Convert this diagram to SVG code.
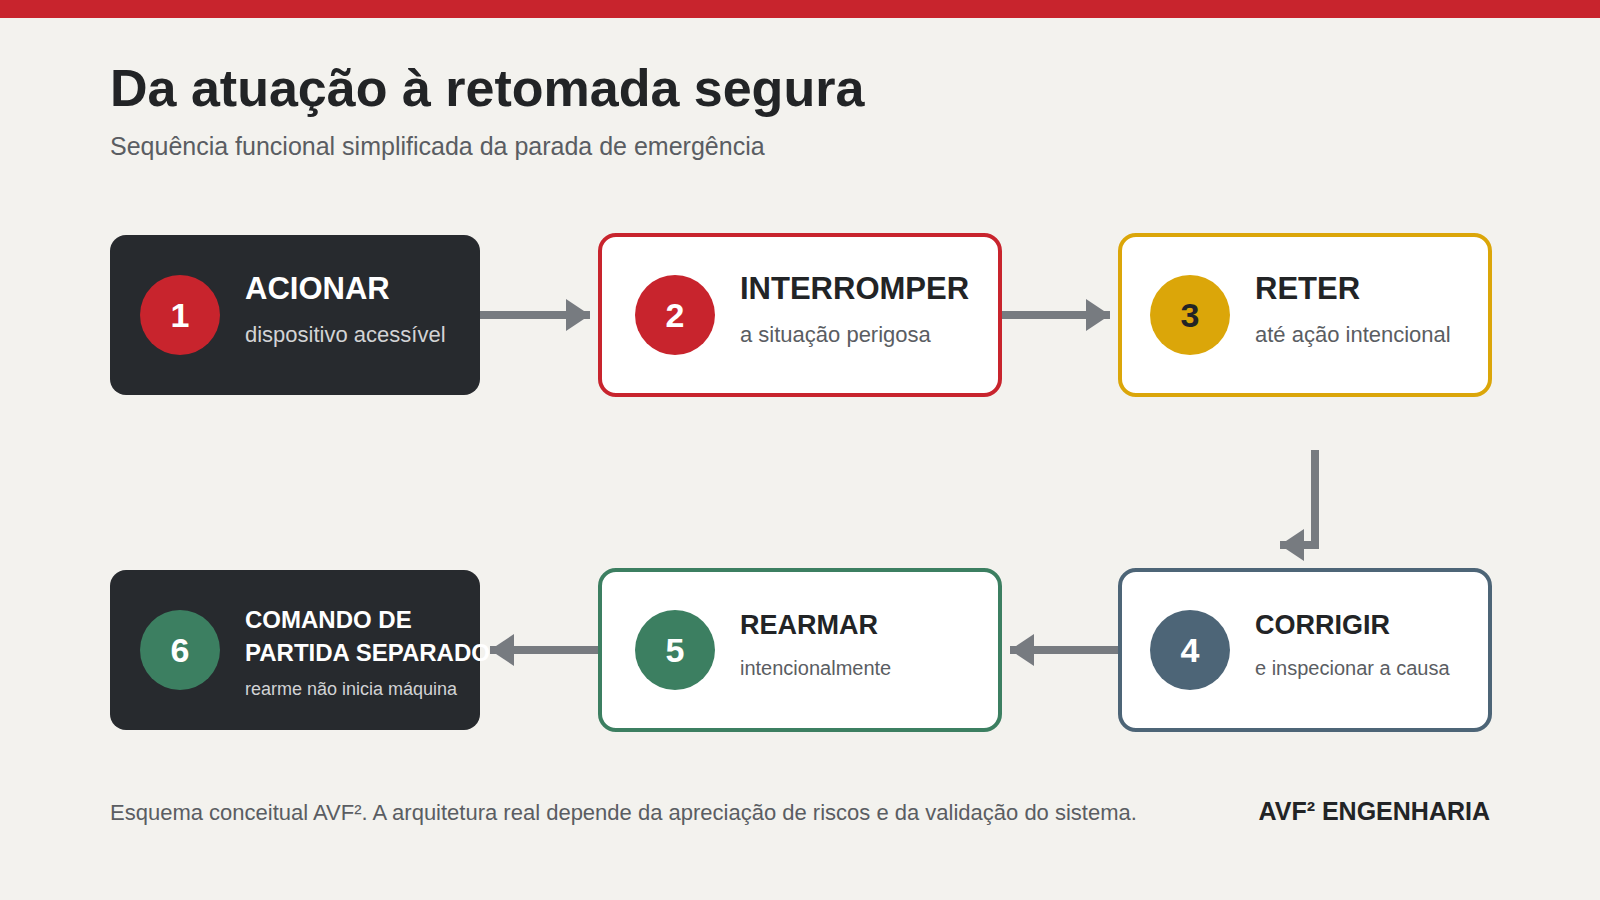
<svg xmlns="http://www.w3.org/2000/svg" width="1600" height="900" viewBox="0 0 1600 900">
<defs>
<style>
.bg{fill:#f3f2ee}
.dark{fill:#272a2e}
.card{fill:#ffffff;stroke-width:4}
.h1{font-family:"Liberation Sans",Arial,sans-serif;font-weight:bold;font-size:52px;fill:#222426}
.sub{font-family:"Liberation Sans",Arial,sans-serif;font-size:25px;fill:#5a5d62}
.t{font-family:"Liberation Sans",Arial,sans-serif;font-weight:bold;font-size:31px}
.t2{font-family:"Liberation Sans",Arial,sans-serif;font-weight:bold;font-size:27px}
.t3{font-family:"Liberation Sans",Arial,sans-serif;font-weight:bold;font-size:24px}
.d{font-family:"Liberation Sans",Arial,sans-serif;font-size:22px}
.d2{font-family:"Liberation Sans",Arial,sans-serif;font-size:20px}
.d3{font-family:"Liberation Sans",Arial,sans-serif;font-size:18px}
.num{font-family:"Liberation Sans",Arial,sans-serif;font-weight:bold;font-size:34px;text-anchor:middle}
.onDark{fill:#ffffff}
.onDarkSub{fill:#d2d3d5}
.onLight{fill:#222426}
.onLightSub{fill:#5a5d62}
.conn{fill:none;stroke:#777b80;stroke-width:8}
.foot{font-family:"Liberation Sans",Arial,sans-serif;font-size:22px;fill:#5a5d62}
.brand{font-family:"Liberation Sans",Arial,sans-serif;font-weight:bold;font-size:25px;fill:#222426;text-anchor:end}
</style>
<marker id="arr" markerUnits="userSpaceOnUse" markerWidth="24" markerHeight="32" refX="24" refY="16" orient="auto" viewBox="0 0 24 32">
<path d="M0,0 L24,16 L0,32 Z" fill="#777b80"/>
</marker>
</defs>
<rect class="bg" x="0" y="0" width="1600" height="900"/>
<rect x="0" y="0" width="1600" height="18" fill="#c8242d"/>
<text class="h1" x="110" y="106">Da atuação à retomada segura</text>
<text class="sub" x="110" y="155">Sequência funcional simplificada da parada de emergência</text>

<g id="connectors">
<path class="conn" d="M480,315 H590" marker-end="url(#arr)"/>
<path class="conn" d="M1000,315 H1110" marker-end="url(#arr)"/>
<path class="conn" d="M1315,450 V545 H1280" marker-end="url(#arr)"/>
<path class="conn" d="M1120,650 H1010" marker-end="url(#arr)"/>
<path class="conn" d="M600,650 H490" marker-end="url(#arr)"/>
</g>

<g id="node1">
<rect class="dark" x="110" y="235" width="370" height="160" rx="16"/>
<circle cx="180" cy="315" r="40" fill="#c8242d"/>
<text class="num onDark" x="180" y="327">1</text>
<text class="t onDark" x="245" y="299">ACIONAR</text>
<text class="d onDarkSub" x="245" y="342">dispositivo acessível</text>
</g>

<g id="node2">
<rect class="card" x="600" y="235" width="400" height="160" rx="16" stroke="#c8242d"/>
<circle cx="675" cy="315" r="40" fill="#c8242d"/>
<text class="num onDark" x="675" y="327">2</text>
<text class="t onLight" x="740" y="299">INTERROMPER</text>
<text class="d onLightSub" x="740" y="342">a situação perigosa</text>
</g>

<g id="node3">
<rect class="card" x="1120" y="235" width="370" height="160" rx="16" stroke="#dba609"/>
<circle cx="1190" cy="315" r="40" fill="#dba609"/>
<text class="num onLight" x="1190" y="327">3</text>
<text class="t onLight" x="1255" y="299">RETER</text>
<text class="d onLightSub" x="1255" y="342">até ação intencional</text>
</g>

<g id="node4">
<rect class="card" x="1120" y="570" width="370" height="160" rx="16" stroke="#4d6577"/>
<circle cx="1190" cy="650" r="40" fill="#4d6577"/>
<text class="num onDark" x="1190" y="662">4</text>
<text class="t2 onLight" x="1255" y="634">CORRIGIR</text>
<text class="d2 onLightSub" x="1255" y="675">e inspecionar a causa</text>
</g>

<g id="node5">
<rect class="card" x="600" y="570" width="400" height="160" rx="16" stroke="#3c7f61"/>
<circle cx="675" cy="650" r="40" fill="#3c7f61"/>
<text class="num onDark" x="675" y="662">5</text>
<text class="t2 onLight" x="740" y="634">REARMAR</text>
<text class="d2 onLightSub" x="740" y="675">intencionalmente</text>
</g>

<g id="node6">
<rect class="dark" x="110" y="570" width="370" height="160" rx="16"/>
<circle cx="180" cy="650" r="40" fill="#3c7f61"/>
<text class="num onDark" x="180" y="662">6</text>
<text class="t3 onDark" x="245" y="628">COMANDO DE</text>
<text class="t3 onDark" x="245" y="661">PARTIDA SEPARADO</text>
<text class="d3 onDarkSub" x="245" y="695">rearme não inicia máquina</text>
</g>

<text class="foot" x="110" y="820">Esquema conceitual AVF². A arquitetura real depende da apreciação de riscos e da validação do sistema.</text>
<text class="brand" x="1490" y="820">AVF² ENGENHARIA</text>
</svg>
